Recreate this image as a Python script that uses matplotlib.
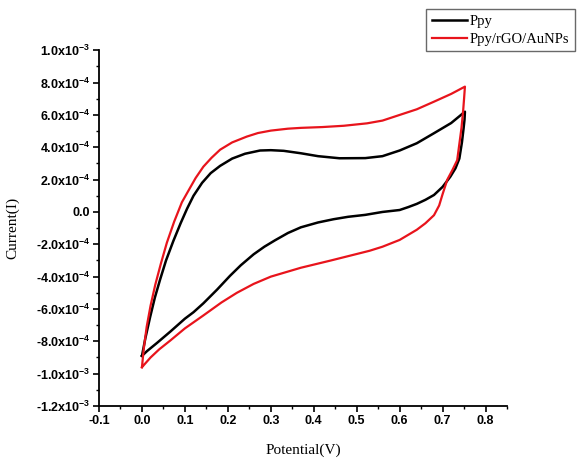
import matplotlib
matplotlib.use("Agg")
import matplotlib.pyplot as plt
from matplotlib.ticker import MultipleLocator

# Ppy: forward scan then reverse scan (potential V, current in 1e-4 A)
ppy_fwd_x = [0.0, 0.008, 0.019, 0.03, 0.042, 0.056, 0.073, 0.09, 0.105, 0.12, 0.14, 0.16,
             0.182, 0.21, 0.24, 0.275, 0.3, 0.33, 0.37, 0.41, 0.46, 0.52, 0.56, 0.6, 0.64,
             0.68, 0.72, 0.752]
ppy_fwd_y = [-8.9, -7.8, -6.5, -5.3, -4.2, -3.0, -1.8, -0.7, 0.2, 1.0, 1.8, 2.4,
             2.85, 3.3, 3.6, 3.8, 3.82, 3.78, 3.63, 3.45, 3.32, 3.33, 3.45, 3.8, 4.25,
             4.87, 5.5, 6.2]
ppy_rev_x = [0.752, 0.751, 0.749, 0.745, 0.739, 0.73, 0.718, 0.70, 0.68, 0.66, 0.64, 0.62,
             0.6, 0.56, 0.52, 0.48, 0.446, 0.41, 0.37, 0.34, 0.31, 0.285, 0.26, 0.23,
             0.205, 0.175, 0.143, 0.12, 0.1, 0.066, 0.035, 0.012, 0.0]
ppy_rev_y = [6.2, 5.7, 5.2, 4.3, 3.3, 2.7, 2.18, 1.55, 1.05, 0.75, 0.5, 0.3,
             0.12, 0.0, -0.18, -0.3, -0.45, -0.65, -0.95, -1.3, -1.75, -2.15, -2.62, -3.3,
             -3.95, -4.8, -5.65, -6.2, -6.6, -7.4, -8.1, -8.6, -8.9]

# Ppy/rGO/AuNPs
comp_fwd_x = [0.0, 0.004, 0.011, 0.02, 0.031, 0.044, 0.058, 0.075, 0.093, 0.11, 0.125, 0.143,
              0.162, 0.182, 0.21, 0.244, 0.27, 0.3, 0.34, 0.37, 0.42, 0.47, 0.524, 0.56,
              0.6, 0.64, 0.68, 0.72, 0.752]
comp_fwd_y = [-9.6, -8.5, -7.1, -5.8, -4.5, -3.2, -1.9, -0.6, 0.6, 1.4, 2.1, 2.8,
              3.35, 3.85, 4.3, 4.66, 4.88, 5.03, 5.15, 5.2, 5.25, 5.33, 5.48, 5.65,
              6.0, 6.35, 6.82, 7.3, 7.75]
comp_rev_x = [0.752, 0.750, 0.748, 0.744, 0.739, 0.734, 0.723, 0.711, 0.70, 0.692, 0.68, 0.66,
              0.64, 0.6, 0.56, 0.53, 0.5, 0.44, 0.37, 0.3, 0.26, 0.221, 0.185, 0.143,
              0.1, 0.066, 0.04, 0.02, 0.0]
comp_rev_y = [7.75, 7.0, 6.3, 5.2, 4.2, 3.2, 2.6, 2.0, 1.1, 0.4, -0.2, -0.7,
              -1.1, -1.73, -2.15, -2.4, -2.6, -3.0, -3.45, -4.0, -4.45, -5.0, -5.6, -6.4,
              -7.2, -7.95, -8.5, -9.0, -9.6]

scale = 1e-4
y_ticks = [1.0e-3, 8.0e-4, 6.0e-4, 4.0e-4, 2.0e-4, 0.0, -2.0e-4, -4.0e-4, -6.0e-4,
           -8.0e-4, -1.0e-3, -1.2e-3]
y_tick_labels = ["1.0x10$^{-3}$", "8.0x10$^{-4}$", "6.0x10$^{-4}$", "4.0x10$^{-4}$",
                 "2.0x10$^{-4}$", "0.0", "-2.0x10$^{-4}$", "-4.0x10$^{-4}$",
                 "-6.0x10$^{-4}$", "-8.0x10$^{-4}$", "-1.0x10$^{-3}$", "-1.2x10$^{-3}$"]
x_ticks = [-0.1, 0.0, 0.1, 0.2, 0.3, 0.4, 0.5, 0.6, 0.7, 0.8]
x_tick_labels = ["-0.1", "0.0", "0.1", "0.2", "0.3", "0.4", "0.5", "0.6", "0.7", "0.8"]

plt.rcParams["mathtext.fontset"] = "custom"
plt.rcParams["mathtext.rm"] = "Liberation Sans:bold"
plt.rcParams["mathtext.default"] = "rm"

fig = plt.figure(figsize=(5.77, 4.61), dpi=100)
ax = fig.add_axes([0.1716, 0.1193, 0.8787 - 0.1716, 0.891 - 0.1193])

ax.plot(ppy_fwd_x + ppy_rev_x[1:], [v * scale for v in ppy_fwd_y + ppy_rev_y[1:]],
        color="black", lw=1.8, label="Ppy")
ax.plot(comp_fwd_x + comp_rev_x[1:], [v * scale for v in comp_fwd_y + comp_rev_y[1:]],
        color="#e8141c", lw=1.6, label="Ppy/rGO/AuNPs")

ax.set_xlim(-0.1, 0.85)
ax.set_ylim(-1.2e-3, 1.0e-3)
ax.set_xticks(x_ticks)
ax.set_xticklabels(x_tick_labels)
ax.set_yticks(y_ticks)
ax.set_yticklabels(y_tick_labels)
ax.xaxis.set_minor_locator(MultipleLocator(0.05))
ax.yaxis.set_minor_locator(MultipleLocator(1e-4))

for lab in ax.get_xticklabels() + ax.get_yticklabels():
    lab.set_fontfamily("Liberation Sans")
    lab.set_fontweight("bold")
    lab.set_fontsize(9)

ax.tick_params(which="major", direction="out", length=4.2, width=1.2, pad=2)
ax.tick_params(which="minor", direction="out", length=2.5, width=1.0)
for side in ("top", "right"):
    ax.spines[side].set_visible(False)
for side in ("left", "bottom"):
    ax.spines[side].set_linewidth(1.3)

ax.set_xlabel("Potential(V)", fontfamily="Liberation Serif", fontsize=11)
ax.set_ylabel("Current(I)", fontfamily="Liberation Serif", fontsize=11)
ax.xaxis.set_label_coords(0.5, -0.105)
ax.yaxis.set_label_coords(-0.195, 0.5)

leg = fig.legend(loc="upper right", bbox_to_anchor=(575 / 577, 1 - 9 / 461),
                 borderaxespad=0, fancybox=False, frameon=True, handlelength=2.4,
                 handletextpad=0.2, labelspacing=0.3, borderpad=0.4,
                 prop={"family": "Liberation Serif", "size": 10.5})
leg.get_frame().set_edgecolor("#444444")
leg.get_frame().set_linewidth(1.0)

fig.savefig("out.png", dpi=100)
